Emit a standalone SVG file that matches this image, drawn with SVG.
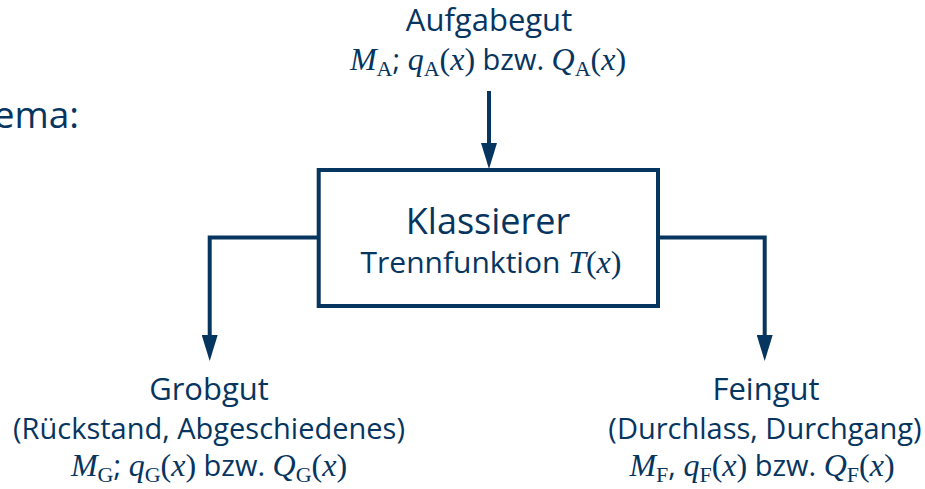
<svg xmlns="http://www.w3.org/2000/svg" width="925" height="489" viewBox="0 0 925 489">
<style>
text{fill:#06355f;font-family:"Open Sans","Noto Sans","DejaVu Sans",sans-serif;text-anchor:middle}
.lbl{font-size:29px}
.hd{font-size:31px}
.big{font-size:36px}
.m{font-family:"Liberation Serif","Times New Roman",serif;font-style:italic;font-size:32px}
.r{font-family:"Liberation Serif","Times New Roman",serif;font-size:32px}
.sub{font-family:"Liberation Serif","Times New Roman",serif;font-size:22px}
.line{fill:none;stroke:#06355f;stroke-width:4;stroke-linejoin:miter}
</style>
<defs>
<marker id="arr" markerUnits="userSpaceOnUse" markerWidth="26" markerHeight="16" viewBox="0 0 26 16" refX="0" refY="8" orient="auto">
<path d="M0,0 L26,8 L0,16 z" fill="#06355f"/>
</marker>
</defs>
<rect width="925" height="489" fill="#ffffff"/>
<text x="79" y="128" style="font-size:37px;text-anchor:end">ema:</text>
<g id="connectors">
<path class="line" d="M489,91 V143" marker-end="url(#arr)"/>
<path class="line" d="M318,237.5 H209.7 V335" marker-end="url(#arr)"/>
<path class="line" d="M658,237.5 H764.7 V335" marker-end="url(#arr)"/>
</g>
<g id="aufgabegut">
<text x="489" y="31" class="hd">Aufgabegut</text>
<text x="488" y="70" class="lbl"><tspan class="m">M</tspan><tspan class="sub" dy="6">A</tspan><tspan dy="-6">; </tspan><tspan class="m">q</tspan><tspan class="sub" dy="6">A</tspan><tspan class="r" dy="-6">(</tspan><tspan class="m">x</tspan><tspan class="r">)</tspan><tspan> bzw. </tspan><tspan class="m">Q</tspan><tspan class="sub" dy="6">A</tspan><tspan class="r" dy="-6">(</tspan><tspan class="m">x</tspan><tspan class="r">)</tspan></text>
</g>
<g id="klassierer">
<rect x="318.7" y="170" width="339.3" height="136" class="line"/>
<text x="488" y="234" class="big">Klassierer</text>
<text x="491" y="273" style="font-size:30px">Trennfunktion <tspan class="m">T</tspan><tspan class="r">(</tspan><tspan class="m">x</tspan><tspan class="r">)</tspan></text>
</g>
<g id="grobgut">
<text x="209" y="400" class="hd">Grobgut</text>
<text x="209" y="439" class="lbl">(Rückstand, Abgeschiedenes)</text>
<text x="209" y="476" class="lbl"><tspan class="m">M</tspan><tspan class="sub" dy="6">G</tspan><tspan dy="-6">; </tspan><tspan class="m">q</tspan><tspan class="sub" dy="6">G</tspan><tspan class="r" dy="-6">(</tspan><tspan class="m">x</tspan><tspan class="r">)</tspan><tspan> bzw. </tspan><tspan class="m">Q</tspan><tspan class="sub" dy="6">G</tspan><tspan class="r" dy="-6">(</tspan><tspan class="m">x</tspan><tspan class="r">)</tspan></text>
</g>
<g id="feingut">
<text x="766" y="400" class="hd">Feingut</text>
<text x="765" y="439" class="lbl">(Durchlass, Durchgang)</text>
<text x="762" y="476" class="lbl"><tspan class="m">M</tspan><tspan class="sub" dy="6">F</tspan><tspan dy="-6">, </tspan><tspan class="m">q</tspan><tspan class="sub" dy="6">F</tspan><tspan class="r" dy="-6">(</tspan><tspan class="m">x</tspan><tspan class="r">)</tspan><tspan> bzw. </tspan><tspan class="m">Q</tspan><tspan class="sub" dy="6">F</tspan><tspan class="r" dy="-6">(</tspan><tspan class="m">x</tspan><tspan class="r">)</tspan></text>
</g>
</svg>
